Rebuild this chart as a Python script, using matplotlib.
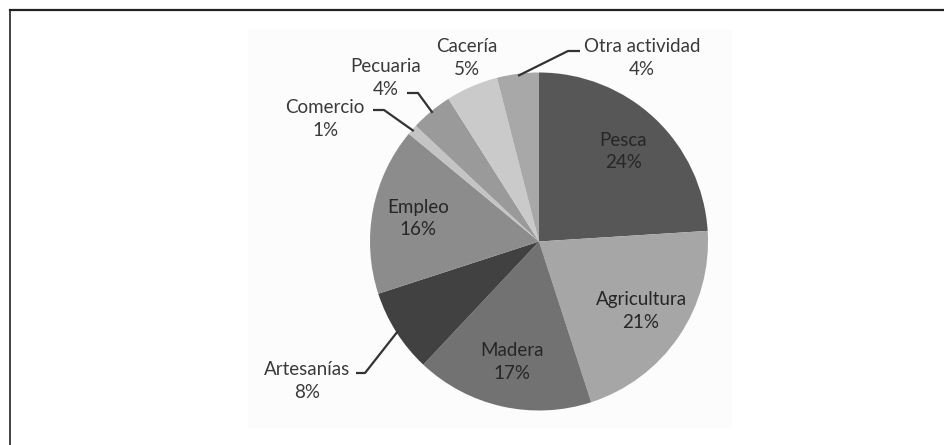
import matplotlib
matplotlib.use("Agg")
import matplotlib.pyplot as plt
import numpy as np
from matplotlib.patches import Rectangle

# data
categories = ["Pesca", "Agricultura", "Madera", "Artesanías", "Empleo",
              "Comercio", "Pecuaria", "Cacería", "Otra actividad"]
shares = [24, 21, 17, 8, 16, 1, 4, 5, 4]
colors = ["#575757", "#a6a6a6", "#727272", "#414141", "#8c8c8c",
          "#c4c4c4", "#9a9a9a", "#cacaca", "#a8a8a8"]

# layout in pixels (y measured from top)
W, H = 945, 445
CX, CY, R = 539, 241.5, 169
inside = {"Pesca", "Agricultura", "Madera", "Empleo"}
outside_text = {
    "Artesanías": (307, 381),
    "Comercio": (325, 119),
    "Pecuaria": (386, 78),
    "Cacería": (467, 58),
    "Otra actividad": (642, 58),
}
leader_elbow = {
    "Artesanías": [(365, 373), (356, 373)],
    "Comercio": [(384, 110), (373, 110)],
    "Pecuaria": [(418, 93), (407, 93)],
    "Otra actividad": [(568, 51), (580, 51)],
}

plt.rcParams["font.family"] = ["Lato", "DejaVu Sans"]

fig = plt.figure(figsize=(W / 100, H / 100), dpi=100)
ax = fig.add_axes([0, 0, 1, 1])


def up(y):
    return H - y


ax.add_patch(Rectangle((248, up(428)), 484, 398, facecolor="#fcfcfc",
                       edgecolor="none", zorder=0))
ax.plot([10, W], [up(10), up(10)], color="#222222", lw=1.6, zorder=1)
ax.plot([10, 10], [up(10), 0], color="#222222", lw=1.2, zorder=1)

wedges, _ = ax.pie(shares, colors=colors, startangle=90, counterclock=False,
                   center=(CX, up(CY)), radius=R, frame=True,
                   wedgeprops=dict(linewidth=0))
ax.set_xlim(0, W)
ax.set_ylim(0, H)
ax.set_aspect("equal")
ax.axis("off")

start = 0.0
total = float(sum(shares))
for name, val in zip(categories, shares):
    mid = (start + val / 2) / total * 2 * np.pi
    start += val
    sx, sy = np.sin(mid), np.cos(mid)
    label = f"{name}\n{val}%"
    if name in inside:
        d = 0.73 * R
        ax.text(CX + d * sx, up(CY) + d * sy, label, ha="center", va="center",
                fontsize=13.5, color="#262626", linespacing=1.4, zorder=5)
        continue
    tx, ty = outside_text[name]
    ax.text(tx, up(ty), label, ha="center", va="center", fontsize=13.5,
            color="#3a3a3a", linespacing=1.4, zorder=5)
    if name in leader_elbow:
        ex, ey = CX + (R - 2) * sx, up(CY) + (R - 2) * sy
        pts = [(ex, ey)] + [(px, up(py)) for px, py in leader_elbow[name]]
        xs, ys = zip(*pts)
        ax.plot(xs, ys, color="#333333", lw=1.6, zorder=4,
                solid_capstyle="butt")

fig.savefig("out.png", dpi=100)
